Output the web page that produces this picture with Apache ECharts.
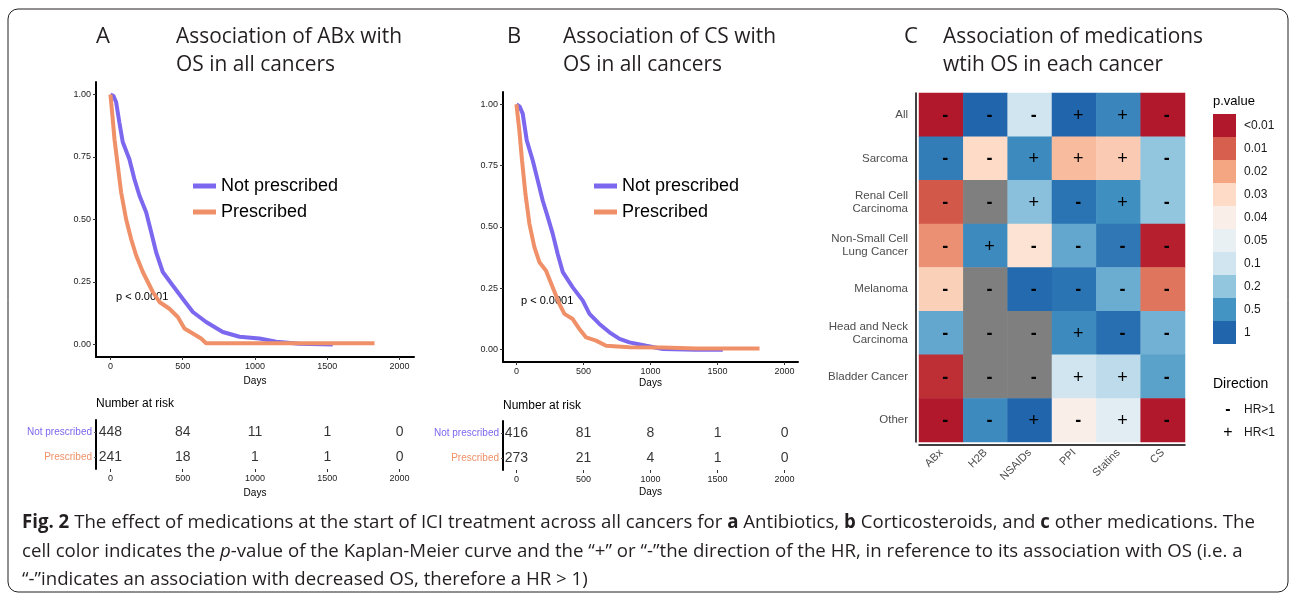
<!DOCTYPE html>
<html>
<head>
<meta charset="utf-8">
<script src="https://cdn.jsdelivr.net/npm/echarts@6/dist/echarts.min.js"></script>
<style>
  html, body { margin: 0; padding: 0; background: #fff; }
  #chart { width: 1295px; height: 599px; }
</style>
</head>
<body>
<div id="chart"></div>
<script>
// ---- Kaplan-Meier curves (days, survival) ----
const abxNotDays = [0, 20, 39, 62, 85, 131, 166, 201, 247, 282, 316, 362, 431, 500, 570, 662, 777, 893, 1031, 1147, 1308, 1538];
const abxNotSurv = [1, 0.995, 0.97, 0.887, 0.81, 0.741, 0.661, 0.595, 0.529, 0.449, 0.369, 0.29, 0.236, 0.183, 0.13, 0.09, 0.05, 0.031, 0.024, 0.011, 0.003, 0];
const abxRxDays = [0, 16, 28, 51, 74, 108, 143, 178, 224, 293, 339, 408, 466, 512, 570, 627, 662, 708, 1827];
const abxRxSurv = [1, 0.9, 0.82, 0.714, 0.608, 0.502, 0.422, 0.356, 0.29, 0.21, 0.17, 0.143, 0.11, 0.064, 0.044, 0.024, 0.005, 0.005, 0.005];

const csNotDays = [0, 25, 47, 77, 122, 159, 196, 234, 271, 308, 346, 420, 495, 545, 619, 694, 769, 843, 968, 1092, 1340, 1539];
const csNotSurv = [1, 0.99, 0.962, 0.853, 0.771, 0.69, 0.608, 0.54, 0.472, 0.39, 0.316, 0.254, 0.2, 0.146, 0.105, 0.071, 0.044, 0.03, 0.016, 0.003, 0, 0];
const csRxDays = [0, 22, 42, 67, 97, 134, 172, 221, 271, 321, 358, 420, 470, 520, 594, 669, 843, 1092, 1340, 1813];
const csRxSurv = [1, 0.893, 0.771, 0.636, 0.513, 0.418, 0.356, 0.322, 0.254, 0.186, 0.146, 0.125, 0.084, 0.05, 0.037, 0.016, 0.01, 0.009, 0.005, 0.005];

// ---- number at risk ----
const dayTicks = [0, 500, 1000, 1500, 2000];
const survTicks = [0, 0.25, 0.5, 0.75, 1];
const groups = ['Not prescribed', 'Prescribed'];
const abxRiskNot = [448, 84, 11, 1, 0];
const abxRiskRx = [241, 18, 1, 1, 0];
const csRiskNot = [416, 81, 8, 1, 0];
const csRiskRx = [273, 21, 4, 1, 0];

// ---- heatmap (panel C) ----
const medications = ['ABx', 'H2B', 'NSAIDs', 'PPI', 'Statins', 'CS'];
const cancers = ['All', 'Sarcoma', 'Renal Cell\nCarcinoma', 'Non-Small Cell\nLung Cancer', 'Melanoma',
  'Head and Neck\nCarcinoma', 'Bladder Cancer', 'Other'];
// estimated p-values, null = not available (grey)
const pValues = [
  [0.005, 1, 0.1, 1, 0.65, 0.005],
  [0.75, 0.03, 0.6, 0.024, 0.027, 0.2],
  [0.0095, null, 0.23, 0.85, 0.55, 0.2],
  [0.017, 0.6, 0.034, 0.38, 0.8, 0.0055],
  [0.028, null, 0.95, 0.85, 0.35, 0.013],
  [0.38, null, null, 0.6, 0.9, 0.32],
  [0.0065, null, null, 0.1, 0.13, 0.41],
  [0.005, 0.6, 1, 0.04, 0.065, 0.005]
];
const directions = [
  ['-', '-', '-', '+', '+', '-'],
  ['-', '-', '+', '+', '+', '-'],
  ['-', '-', '+', '-', '+', '-'],
  ['-', '+', '-', '-', '-', '-'],
  ['-', '-', '-', '-', '-', '-'],
  ['-', '-', '-', '+', '-', '-'],
  ['-', '-', '-', '+', '+', '-'],
  ['-', '-', '+', '-', '+', '-']
];
const pBreaks = [0.005, 0.01, 0.02, 0.03, 0.04, 0.05, 0.1, 0.2, 0.5, 1];
const pLabels = ['<0.01', '0.01', '0.02', '0.03', '0.04', '0.05', '0.1', '0.2', '0.5', '1'];

const pColors = ['#b2182b', '#d6604d', '#f4a582', '#fddbc7', '#faeee8', '#e8f0f4', '#d1e5f0', '#92c5de', '#4393c3', '#2166ac'];
const naColor = '#7f7f7f';
const purple = '#7b68ee';
const orange = '#ef9068';
const sans = '"Liberation Sans", Arial, sans-serif';
const titleFont = '"Open Sans", sans-serif';

// p-value -> position on the colour scale (0..9), -1 for missing
function level(p) {
  if (p === null) return -1;
  if (p <= pBreaks[0]) return 0;
  for (let i = 0; i < pBreaks.length - 1; i++) {
    if (p <= pBreaks[i + 1]) return i + (p - pBreaks[i]) / (pBreaks[i + 1] - pBreaks[i]);
  }
  return pBreaks.length - 1;
}
const heatData = [];
pValues.forEach((row, r) => row.forEach((p, c) => heatData.push([c, r, level(p)])));

const zip = (xs, ys) => xs.map((x, i) => [x, ys[i]]);
const riskRows = (vals, group) => vals.map((v, i) => [dayTicks[i], group, v]);

// text measuring, used to fit the Myriad-like titles / condensed caption
const ctx = document.createElement('canvas').getContext('2d');
function measure(text, font) { ctx.font = font; return ctx.measureText(text).width; }

const chart = echarts.init(document.getElementById('chart'));

function kmX(grid, gap) {
  return {
    type: 'value', gridIndex: grid, min: -100, max: 2100,
    axisLine: { onZero: false, lineStyle: { color: '#000', width: 2 } },
    axisTick: { show: true, customValues: dayTicks, length: 3, lineStyle: { color: '#333' } },
    axisLabel: { customValues: dayTicks, formatter: v => String(v), fontSize: 9, color: '#222', margin: 5, fontFamily: sans },
    splitLine: { show: false },
    name: 'Days', nameLocation: 'middle', nameGap: gap,
    nameTextStyle: { fontSize: 10, color: '#000', fontFamily: sans }
  };
}
function kmY(grid) {
  return {
    type: 'value', gridIndex: grid, min: -0.05, max: 1.05,
    axisLine: { show: true, onZero: false, lineStyle: { color: '#000', width: 2 } },
    axisTick: { show: true, customValues: survTicks, length: 3, lineStyle: { color: '#333' } },
    axisLabel: { customValues: survTicks, formatter: v => v.toFixed(2), fontSize: 9, color: '#222', margin: 5, fontFamily: sans },
    splitLine: { show: false }
  };
}
function riskY(grid) {
  return {
    type: 'category', gridIndex: grid, data: groups.slice(), inverse: true,
    axisLine: { show: true, onZero: false, lineStyle: { color: '#000', width: 2 } },
    axisTick: { show: true, length: 2, alignWithLabel: true, lineStyle: { color: '#555' } },
    axisLabel: { fontSize: 10, margin: 4, fontFamily: sans, color: v => (v === 'Prescribed' ? orange : purple) }
  };
}
function kmLine(name, data, color, ax) {
  return {
    name, type: 'line', data, xAxisIndex: ax, yAxisIndex: ax,
    showSymbol: false, symbol: 'none', lineStyle: { width: 4, color }, itemStyle: { color },
    z: 3, silent: true
  };
}
function riskSeries(name, data, ax) {
  return {
    name, type: 'scatter', data, xAxisIndex: ax, yAxisIndex: ax, symbolSize: 0, silent: true,
    label: { show: true, position: 'inside', formatter: p => p.value[2], fontSize: 14, color: '#000', fontFamily: sans }
  };
}
function kmLegend(left) {
  return {
    data: groups, left, top: 172, orient: 'vertical', icon: 'rect', itemWidth: 23, itemHeight: 5,
    itemGap: 8, selectedMode: false, textStyle: { fontSize: 18, color: '#000', fontFamily: sans }
  };
}

// titles
const tFont = '21px ' + titleFont;
const tScale = 260 / measure('Association of medications', tFont);
function title(x, y, text) {
  return { type: 'text', x, y, scaleX: tScale, silent: true,
    style: { text, font: tFont, fill: '#231f20', align: 'left', verticalAlign: 'middle' } };
}
function label(x, y, text, size, extra) {
  return { type: 'text', x, y, silent: true,
    style: Object.assign({ text, font: size + 'px ' + sans, fill: '#000', align: 'left', verticalAlign: 'middle' }, extra || {}) };
}

// caption
const capSize = 19;
const capFam = '"Open Sans", sans-serif';
const capFonts = { '': capSize + 'px ' + capFam, b: 'bold ' + capSize + 'px ' + capFam, i: 'italic ' + capSize + 'px ' + capFam };
const capLines = [
  [['Fig. 2', 'b'], [' The effect of medications at the start of ICI treatment across all cancers for ', ''], ['a', 'b'],
   [' Antibiotics, ', ''], ['b', 'b'], [' Corticosteroids, and ', ''], ['c', 'b'], [' other medications. The', '']],
  [['cell color indicates the ', ''], ['p', 'i'],
   ['-value of the Kaplan-Meier curve and the \u201c+\u201d or \u201c-\u201dthe direction of the HR, in reference to its association with OS (i.e. a', '']],
  [['\u201c-\u201dindicates an association with decreased OS, therefore a HR > 1)', '']]
];
const lineWidth = segs => segs.reduce((s, [t, k]) => s + measure(t, capFonts[k]), 0);
const capScale = 1233 / lineWidth(capLines[0]);
const capY = [523, 552, 580];
const captions = capLines.map((segs, i) => ({
  type: 'text', x: 22, y: capY[i], scaleX: capScale, silent: true,
  style: {
    text: segs.map(([t, k]) => (k ? '{' + k + '|' + t + '}' : t)).join(''),
    fontFamily: capFam, fontSize: capSize, fill: '#231f20', align: 'left', verticalAlign: 'middle',
    rich: {
      b: { fontFamily: capFam, fontSize: capSize, fontWeight: 'bold', fill: '#231f20' },
      i: { fontFamily: capFam, fontSize: capSize, fontStyle: 'italic', fill: '#231f20' }
    }
  }
}));

const option = {
  backgroundColor: '#fff',
  animation: false,
  textStyle: { fontFamily: sans },
  grid: [
    { left: 96, top: 82, width: 318, height: 275 },
    { left: 96, top: 420, width: 318, height: 49 },
    { left: 503, top: 92, width: 295, height: 270 },
    { left: 503, top: 421, width: 295, height: 49 },
    { left: 919, top: 93, width: 266, height: 349 }
  ],
  xAxis: [
    kmX(0, 19), kmX(1, 19), kmX(2, 16), kmX(3, 17),
    {
      type: 'category', gridIndex: 4, data: medications, offset: 3,
      axisLine: { lineStyle: { color: '#000', width: 1.5 } },
      axisTick: { length: 4, alignWithLabel: true, lineStyle: { color: '#333' } },
      axisLabel: { rotate: 45, interval: 0, fontSize: 11, color: '#4d4d4d', margin: 6, fontFamily: sans },
      splitArea: { show: false }
    }
  ],
  yAxis: [
    kmY(0), riskY(1), kmY(2), riskY(3),
    {
      type: 'category', gridIndex: 4, data: cancers, inverse: true, offset: 3,
      axisLine: { lineStyle: { color: '#000', width: 1.5 } },
      axisTick: { length: 4, alignWithLabel: true, lineStyle: { color: '#333' } },
      axisLabel: { interval: 0, fontSize: 11.5, lineHeight: 13, color: '#4d4d4d', margin: 8, fontFamily: sans },
      splitArea: { show: false }
    }
  ],
  legend: [kmLegend(188), kmLegend(589)],
  visualMap: [
    {
      // grey sits one step below the scale for the missing cells (-1)
      type: 'continuous', show: false, seriesIndex: 8, dimension: 2, min: -1, max: 9,
      inRange: { color: [naColor].concat(pColors) }
    },
    {
      type: 'piecewise', seriesIndex: 9, left: 1213, top: 114, orient: 'vertical', inverse: true,
      align: 'left', padding: 0,
      itemWidth: 23, itemHeight: 23, itemGap: 0, itemSymbol: 'rect', textGap: 8, selectedMode: false,
      textStyle: { fontSize: 12, color: '#1a1a1a', fontFamily: sans },
      pieces: pLabels.map((l, i) => ({ value: i, label: l, color: pColors[i] }))
    }
  ],
  series: [
    kmLine('Not prescribed', zip(abxNotDays, abxNotSurv), purple, 0),
    kmLine('Prescribed', zip(abxRxDays, abxRxSurv), orange, 0),
    riskSeries('riskA1', riskRows(abxRiskNot, groups[0]), 1),
    riskSeries('riskA2', riskRows(abxRiskRx, groups[1]), 1),
    kmLine('Not prescribed', zip(csNotDays, csNotSurv), purple, 2),
    kmLine('Prescribed', zip(csRxDays, csRxSurv), orange, 2),
    riskSeries('riskB1', riskRows(csRiskNot, groups[0]), 3),
    riskSeries('riskB2', riskRows(csRiskRx, groups[1]), 3),
    {
      name: 'p.value', type: 'heatmap', xAxisIndex: 4, yAxisIndex: 4, data: heatData, silent: true,
      label: {
        show: true, offset: [4, 1], fontSize: 18, color: '#000', fontFamily: sans,
        formatter: p => (directions[p.data[1]][p.data[0]] === '-' ? '{m|-}' : '+'),
        rich: { m: { fontSize: 18, fontWeight: 'bold', color: '#000', fontFamily: sans } }
      }
    },
    { name: 'legendDummy', type: 'scatter', xAxisIndex: 4, yAxisIndex: 4, data: [], silent: true }
  ],
  graphic: [
    { type: 'rect', silent: true, shape: { x: 8, y: 9, width: 1280, height: 583, r: 10 },
      style: { fill: 'none', stroke: '#231f20', lineWidth: 1 } },
    { type: 'text', x: 103, y: 37, silent: true, style: { text: 'A', font: '22px ' + titleFont, fill: '#231f20', align: 'center', verticalAlign: 'middle' } },
    { type: 'text', x: 514, y: 37, silent: true, style: { text: 'B', font: '22px ' + titleFont, fill: '#231f20', align: 'center', verticalAlign: 'middle' } },
    { type: 'text', x: 911, y: 37, silent: true, style: { text: 'C', font: '22px ' + titleFont, fill: '#231f20', align: 'center', verticalAlign: 'middle' } },
    title(176, 37, 'Association of ABx with'),
    title(176, 65, 'OS in all cancers'),
    title(563, 37, 'Association of CS with'),
    title(563, 65, 'OS in all cancers'),
    title(943, 37, 'Association of medications'),
    title(943, 65, 'wtih OS in each cancer'),
    label(116, 297, 'p < 0.0001', 11),
    label(521, 301, 'p < 0.0001', 11),
    label(96, 404, 'Number at risk', 12),
    label(503, 406, 'Number at risk', 12),
    label(1213, 101, 'p.value', 13),
    label(1213, 384, 'Direction', 14),
    label(1228, 410, '-', 16, { align: 'center', font: 'bold 16px ' + sans }),
    label(1244, 410, 'HR>1', 12, { fill: '#1a1a1a' }),
    label(1228, 433, '+', 16, { align: 'center' }),
    label(1244, 433, 'HR<1', 12, { fill: '#1a1a1a' })
  ].concat(captions)
};

chart.setOption(option);
</script>
</body>
</html>
